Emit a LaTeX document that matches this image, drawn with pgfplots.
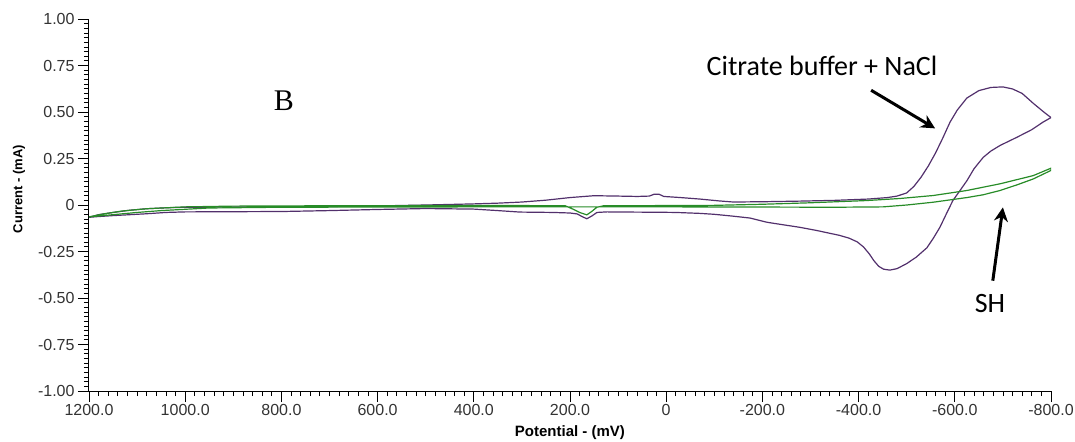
\documentclass[border=0pt]{standalone}
\usepackage{pgfplots}
\pgfplotsset{compat=1.18}
\usepackage{fontspec}
\setmainfont{Liberation Sans}
\newfontfamily\calib{Carlito}
\newfontfamily\serifB{Liberation Serif}
\usetikzlibrary{arrows.meta}
\definecolor{cvPurple}{RGB}{82,48,108}
\definecolor{cvGreen}{RGB}{40,140,40}

\begin{document}
\begin{tikzpicture}
\useasboundingbox (-44.5pt,-25pt) rectangle (493pt,195.5pt);
\begin{axis}[at={(0,0)},anchor=south west,scale only axis,width=481pt,height=186pt,
 x dir=reverse,xmin=-800,xmax=1200,ymin=-1,ymax=1,
 axis x line=bottom,axis y line=left,axis line style={-,line width=0.5pt},
 xtick={-800,-600,-400,-200,0,200,400,600,800,1000,1200},
 xticklabels={-800.0,-600.0,-400.0,-200.0,0,200.0,400.0,600.0,800.0,1000.0,1200.0},
 ytick={-1,-0.75,-0.5,-0.25,0,0.25,0.5,0.75,1},
 yticklabels={-1.00,-0.75,-0.50,-0.25,0,0.25,0.50,0.75,1.00},
 minor x tick num=9,minor y tick num=9,
 tick align=outside,major tick length=5.5pt,minor tick length=2.5pt,
 tick style={black,line width=0.4pt},
 tick label style={font=\fontsize{8}{9}\selectfont,black!80},
 yticklabel style={xshift=1.8pt},xticklabel style={yshift=2.5pt},
 xlabel={Potential - (mV)},ylabel={Current - (mA)},
 xlabel style={at={(axis description cs:0.5,-0.113)},anchor=center,font=\bfseries\fontsize{7.5}{8}\selectfont},
 ylabel style={at={(axis description cs:-0.0728,0.543)},anchor=center,font=\bfseries\fontsize{6.5}{8}\selectfont},
 every axis plot/.append style={line width=0.6pt}]

% citrate buffer + NaCl
\addplot[cvPurple] coordinates {
(1200,-0.066)(1180,-0.052)(1150,-0.040)(1115,-0.028)(1080,-0.020)(1040,-0.015)(1000,-0.012)
(900,-0.011)(800,-0.010)(700,-0.008)(600,-0.005)(500,0.000)(450,0.003)(400,0.006)(350,0.010)
(300,0.016)(250,0.026)(200,0.040)(150,0.050)(100,0.048)(60,0.046)(35,0.048)(25,0.058)(15,0.058)
(5,0.046)(-30,0.040)(-70,0.032)(-110,0.022)(-140,0.016)(-210,0.018)(-280,0.021)(-350,0.025)
(-420,0.032)(-460,0.040)(-480,0.048)(-500,0.065)(-515,0.100)(-530,0.150)(-545,0.210)(-560,0.280)
(-575,0.360)(-590,0.445)(-605,0.510)(-625,0.575)(-650,0.615)(-675,0.632)(-700,0.635)(-720,0.624)
(-740,0.600)(-763,0.547)(-785,0.500)(-800,0.470)
(-783,0.445)(-760,0.405)(-729,0.364)(-694,0.320)(-675,0.290)(-659,0.256)(-640,0.195)(-625,0.130)
(-610,0.075)(-596,0.024)(-582,-0.050)(-569,-0.120)(-555,-0.180)(-542,-0.230)(-520,-0.280)
(-500,-0.315)(-480,-0.342)(-465,-0.350)(-452,-0.345)(-442,-0.330)(-432,-0.300)(-422,-0.262)
(-410,-0.225)(-397,-0.198)(-380,-0.178)(-360,-0.163)(-340,-0.152)(-313,-0.137)(-278,-0.120)(-240,-0.105)
(-210,-0.093)(-174,-0.070)(-139,-0.060)(-100,-0.050)(-70,-0.045)(-20,-0.040)(13,-0.039)
(75,-0.038)(123,-0.037)(144,-0.040)(154,-0.058)(165,-0.074)(175,-0.062)(185,-0.048)(200,-0.043)
(235,-0.040)(304,-0.038)(350,-0.030)(400,-0.022)(500,-0.019)(600,-0.024)(700,-0.030)(800,-0.035)
(900,-0.036)(1000,-0.037)(1040,-0.040)(1080,-0.047)(1115,-0.052)(1150,-0.057)(1180,-0.062)(1200,-0.066)};

% SH
\addplot[cvGreen] coordinates {
(1200,-0.064)(1170,-0.048)(1130,-0.032)(1080,-0.020)(1000,-0.010)(900,-0.006)(700,-0.004)
(500,-0.003)(300,-0.003)(210,-0.004)(194,-0.022)(180,-0.040)(165,-0.053)(155,-0.035)(144,-0.012)
(130,-0.004)(0,-0.003)(-97,-0.002)(-200,0.004)(-300,0.012)(-417,0.024)(-486,0.035)(-555,0.051)
(-625,0.078)(-694,0.114)(-763,0.158)(-800,0.198)
(-800,0.186)(-763,0.140)(-729,0.108)(-694,0.078)(-659,0.055)(-625,0.040)(-555,0.015)(-500,0.000)
(-451,-0.010)(-350,-0.012)(-200,-0.011)(0,-0.010)(200,-0.010)(400,-0.010)(600,-0.011)(800,-0.012)
(950,-0.016)(1050,-0.030)(1100,-0.040)(1150,-0.052)(1200,-0.064)};

\node[font=\serifB\fontsize{15}{15}\selectfont] at (axis cs:795,0.563) {B};
\node[font=\calib\fontsize{14}{14}\selectfont] at (axis cs:-324,0.747) {Citrate buffer + NaCl};
\draw[line width=1.5pt,-{Stealth[length=7pt,width=7pt]}] (axis cs:-426,0.617) -- (axis cs:-559,0.412);
\node[font=\calib\fontsize{14}{14}\selectfont] at (axis cs:-673,-0.531) {SH};
\draw[line width=1.5pt,-{Stealth[length=7pt,width=7pt]}] (axis cs:-679,-0.407) -- (axis cs:-700,-0.013);
\end{axis}
\end{tikzpicture}
\end{document}
